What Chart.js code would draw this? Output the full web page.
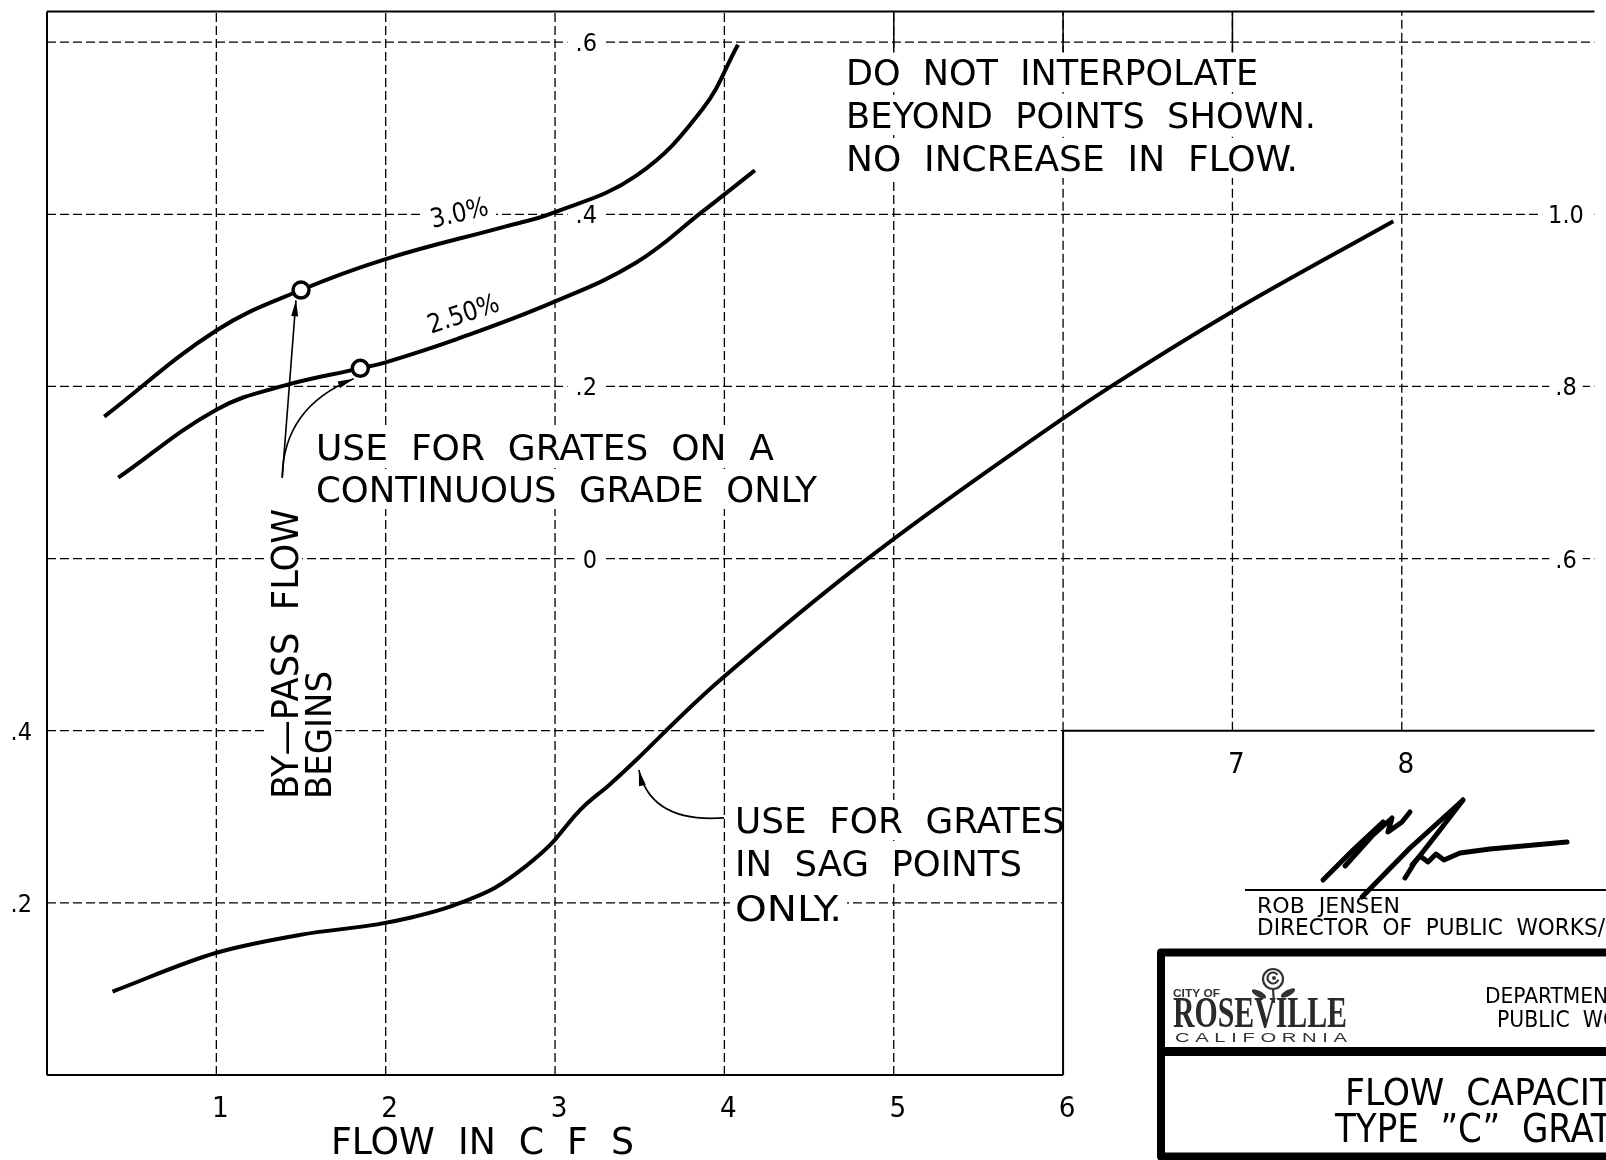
<!DOCTYPE html>
<html>
<head>
<meta charset="utf-8">
<title>Flow capacity - Type "C" grate</title>
<script src="https://cdn.jsdelivr.net/npm/chart.js@4.4.1/dist/chart.umd.min.js"></script>
<style>
  html, body { margin: 0; padding: 0; background: #fff; }
  #box { width: 1606px; height: 1160px; }
</style>
</head>
<body>
<div id="box"><canvas id="flowChart" width="1606" height="1160"></canvas></div>
<script>
// values (flow in cfs on x)
const sagFlow  = [0.387, 1.0, 1.5, 1.95, 2.15, 2.34, 2.44, 2.64, 2.83, 2.98, 3.12, 3.18, 3.32, 3.49, 3.65, 3.83, 3.97, 4.86, 6.0, 6.29, 6.99, 7.95];
const sagValue = [0.097, 0.142, 0.163, 0.175, 0.183, 0.193, 0.200, 0.217, 0.243, 0.269, 0.302, 0.314, 0.337, 0.368, 0.399, 0.433, 0.458, 0.602, 0.763, 0.801, 0.886, 0.992];

// continuous grade curves, read against the middle scale (0 .. .6)
const grade30Flow  = [0.338, 1.0, 1.5, 2.0, 2.71, 2.98, 3.48, 3.87, 4.08];
const grade30Value = [0.165, 0.265, 0.312, 0.348, 0.386, 0.401, 0.445, 0.522, 0.597];
const grade25Flow  = [0.421, 1.0, 1.4, 1.85, 2.0, 2.42, 2.98, 3.48, 3.87, 4.18];
const grade25Value = [0.094, 0.173, 0.201, 0.221, 0.228, 0.255, 0.297, 0.344, 0.403, 0.451];

// by-pass flow begins
const bypassFlow  = [1.50, 1.85];
const bypassValue = [0.312, 0.221];

// grid + tick labels
const xGrid = [1, 2, 3, 4, 5, 6, 7, 8];
const xTickLabels = ['1', '2', '3', '4', '5', '6', '7', '8'];
const yGrid = [0.2, 0.4, 0.6, 0.8, 1.0, 1.2];
const leftTicks = [0.2, 0.4];
const leftTickLabels = ['.2', '.4'];
const rightTicks = [0.6, 0.8, 1.0];
const rightTickLabels = ['.6', '.8', '1.0'];
const gradeTicks = [0, 0.2, 0.4, 0.6];
const gradeTickLabels = ['0', '.2', '.4', '.6'];
const gradeOffset = 0.6;        // middle scale zero sits on the .6 line
const panelFlow = 6, panelDepth = 0.4;   // lower-left panel corner
const topTicks = [5, 6, 7];

// leader arrows, in data units of the main axes
const leaders = [
  { from: [1.389, 0.694], tip: [1.47, 0.900] },
  { from: [1.389, 0.694], ctrl: [1.395, 0.776], tip: [1.811, 0.809] },
  { from: [3.998, 0.2987], ctrl: [3.566, 0.2926], tip: [3.495, 0.3544] }
];

const CAD = '"Liberation Sans Narrow", "DejaVu Sans Condensed", sans-serif';

function pts(xs, ys) {
  return xs.map((v, i) => ({ x: v, y: ys[i] }));
}

function seg(ctx, x1, y1, x2, y2) {
  ctx.beginPath();
  ctx.moveTo(x1, y1);
  ctx.lineTo(x2, y2);
  ctx.stroke();
}

// text scaled to a measured width, optional white wipeout behind it
function cadText(ctx, str, x, y, cap, width, opt = {}) {
  const size = cap / (opt.capRatio || 0.72);
  ctx.save();
  ctx.font = (opt.weight || '400') + ' ' + size.toFixed(1) + 'px ' + (opt.family || CAD);
  const natural = ctx.measureText(str).width;
  const ref = opt.fitTo ? ctx.measureText(opt.fitTo).width : natural;
  const sx = width ? width / ref : 1;
  const w = natural * sx;
  ctx.translate(x, y);
  if (opt.rot) ctx.rotate(opt.rot);
  let dx = 0;
  const dy = opt.middle ? cap / 2 : 0;
  if (opt.align === 'center') dx = -w / 2;
  else if (opt.align === 'right') dx = -w;
  if (opt.knock) {
    const [px, py] = opt.knock;
    ctx.fillStyle = '#fff';
    ctx.fillRect(dx - px, dy - cap - py, w + 2 * px, cap + 2 * py);
  }
  ctx.fillStyle = opt.color || '#000';
  ctx.textAlign = 'left';
  ctx.textBaseline = 'alphabetic';
  ctx.translate(dx, dy);
  ctx.scale(sx, 1);
  ctx.fillText(str, 0, 0);
  ctx.restore();
}

function arrowHead(ctx, tx, ty, fx, fy, len, half) {
  const a = Math.atan2(ty - fy, tx - fx);
  const bx = tx - len * Math.cos(a), by = ty - len * Math.sin(a);
  ctx.beginPath();
  ctx.moveTo(tx, ty);
  ctx.lineTo(bx + half * Math.sin(a), by - half * Math.cos(a));
  ctx.lineTo(bx - half * Math.sin(a), by + half * Math.cos(a));
  ctx.closePath();
  ctx.fill();
}

const cadSheet = {
  id: 'cadSheet',
  beforeDatasetsDraw(chart) {
    const { ctx, chartArea: area, scales } = chart;
    const X = v => scales.x.getPixelForValue(v);
    const Y = v => scales.y.getPixelForValue(v);
    const G = v => scales.yg.getPixelForValue(v);

    ctx.save();
    ctx.strokeStyle = '#000';
    ctx.lineWidth = 1.3;
    ctx.setLineDash([9, 4]);
    xGrid.forEach(v => seg(ctx, X(v), Y(v < panelFlow ? 0 : panelDepth), X(v), area.top));
    yGrid.forEach(v => seg(ctx, X(0), Y(v), v <= panelDepth ? X(panelFlow) : area.right, Y(v)));
    ctx.setLineDash([]);

    // notes
    const k = [7, 7];
    cadText(ctx, 'DO  NOT  INTERPOLATE', 846, 85, 26, 412, { knock: k });
    cadText(ctx, 'BEYOND  POINTS  SHOWN.', 846, 128, 26, 470, { knock: k });
    cadText(ctx, 'NO  INCREASE  IN  FLOW.', 846, 171, 26, 452, { knock: k });
    cadText(ctx, 'USE  FOR  GRATES  ON  A', 316, 460, 26, 458, { knock: k });
    cadText(ctx, 'CONTINUOUS  GRADE  ONLY', 316, 502, 26, 501, { knock: k });
    cadText(ctx, 'USE  FOR  GRATES', 735, 833, 26, 330, { knock: [5, 7] });
    cadText(ctx, 'IN  SAG  POINTS', 735, 876, 26, 287, { knock: [5, 7] });
    cadText(ctx, 'ONLY.', 735, 921, 26, 107, { knock: [5, 7] });
    cadText(ctx, 'BY\u2014PASS  FLOW', 298, 799, 27, 290, { rot: -Math.PI / 2, knock: [4, 4] });
    cadText(ctx, 'BEGINS', 331, 799, 26, 128, { rot: -Math.PI / 2, knock: [4, 4] });
    cadText(ctx, '3.0%', 459, 212, 19, 59, { rot: -13 * Math.PI / 180, align: 'center', middle: true, knock: [6, 3] });
    cadText(ctx, '2.50%', 463, 313, 19, 74, { rot: -18.4 * Math.PI / 180, align: 'center', middle: true, knock: [6, 3] });
    cadText(ctx, 'FLOW  IN  C  F  S', 331, 1154, 27, 303);

    // tick labels
    gradeTicks.forEach((v, i) => cadText(ctx, gradeTickLabels[i], 597, G(v), 18, 0, { align: 'right', middle: true, knock: [8, 3] }));
    rightTicks.forEach((v, i) => cadText(ctx, rightTickLabels[i], 1566, Y(v), 18, 0, { align: 'center', middle: true, knock: [6, 3] }));
    leftTicks.forEach((v, i) => cadText(ctx, leftTickLabels[i], 32, Y(v), 18, 0, { align: 'right', middle: true }));
    xGrid.forEach((v, i) => cadText(ctx, xTickLabels[i], X(v) + 4, Y(v > panelFlow ? panelDepth : 0) + 42, 21, 0, { align: 'center' }));

    // solid frame
    ctx.lineWidth = 2;
    seg(ctx, X(0), Y(0), X(0), area.top);
    seg(ctx, X(0), area.top, area.right, area.top);
    seg(ctx, X(0), Y(0), X(panelFlow), Y(0));
    seg(ctx, X(panelFlow), Y(0), X(panelFlow), Y(panelDepth));
    seg(ctx, X(panelFlow), Y(panelDepth), area.right, Y(panelDepth));
    ctx.lineWidth = 1.5;
    topTicks.forEach(v => seg(ctx, X(v), area.top, X(v), Y(1.188)));
    ctx.restore();
  },
  afterDatasetsDraw(chart) {
    const { ctx, scales } = chart;
    const P = p => [scales.x.getPixelForValue(p[0]), scales.y.getPixelForValue(p[1])];
    ctx.save();
    ctx.strokeStyle = '#000';
    ctx.fillStyle = '#000';
    ctx.lineWidth = 1.6;
    leaders.forEach(l => {
      const a = P(l.from), t = P(l.tip);
      const c = l.ctrl ? P(l.ctrl) : a;
      ctx.beginPath();
      ctx.moveTo(a[0], a[1]);
      if (l.ctrl) ctx.quadraticCurveTo(c[0], c[1], t[0], t[1]);
      else ctx.lineTo(t[0], t[1]);
      ctx.stroke();
      arrowHead(ctx, t[0], t[1], c[0], c[1], 16, 3.5);
    });
    ctx.restore();
  },
  afterDraw(chart) {
    const ctx = chart.ctx;
    ctx.save();
    ctx.strokeStyle = '#000';
    ctx.fillStyle = '#000';

    // signature
    ctx.lineWidth = 5;
    ctx.lineCap = 'round';
    ctx.lineJoin = 'round';
    const sig = [
      [[1323, 880], [1353, 850], [1383, 822]],
      [[1345, 866], [1372, 836], [1392, 818], [1388, 832], [1402, 822], [1410, 812]],
      [[1362, 897], [1410, 848], [1463, 800]],
      [[1463, 800], [1440, 830], [1415, 862], [1405, 878]],
      [[1412, 865], [1420, 856], [1428, 862], [1436, 854], [1444, 860], [1460, 853], [1490, 849], [1567, 842]]
    ];
    sig.forEach(s => {
      ctx.beginPath();
      s.forEach((p, i) => i ? ctx.lineTo(p[0], p[1]) : ctx.moveTo(p[0], p[1]));
      ctx.stroke();
    });
    ctx.lineCap = 'butt';
    ctx.lineWidth = 2;
    seg(ctx, 1245, 890, 1606, 890);
    cadText(ctx, 'ROB  JENSEN', 1257, 913, 15, 143);
    cadText(ctx, 'DIRECTOR  OF  PUBLIC  WORKS/', 1257, 935, 16, 348);

    // title block
    ctx.lineWidth = 8;
    ctx.strokeRect(1161, 952.5, 600, 204);
    ctx.fillRect(1157, 1047, 460, 9);

    // city logo
    cadText(ctx, 'CITY OF', 1173, 997, 7.5, 47, { family: '"Liberation Sans", sans-serif', weight: '700', color: '#333' });
    cadText(ctx, 'ROSEVILLE', 1173, 1027, 29, 174, { family: '"Liberation Serif", serif', weight: '700', capRatio: 0.66, color: '#2a2a2a' });
    cadText(ctx, 'C A L I F O R N I A', 1175, 1042, 9, 172, { family: '"Liberation Sans", sans-serif', color: '#333' });
    ctx.strokeStyle = '#333';
    ctx.fillStyle = '#333';
    ctx.lineWidth = 2.2;
    ctx.beginPath(); ctx.arc(1273, 979, 10, 0, Math.PI * 2); ctx.stroke();
    ctx.beginPath(); ctx.arc(1273, 978, 5.5, 0.3, Math.PI * 1.8); ctx.stroke();
    ctx.beginPath(); ctx.arc(1274, 978, 2, 0, Math.PI * 2); ctx.fill();
    ctx.beginPath(); ctx.ellipse(1259, 994, 8, 3, 0.5, 0, Math.PI * 2); ctx.fill();
    ctx.beginPath(); ctx.ellipse(1288, 993, 8, 3, -0.5, 0, Math.PI * 2); ctx.fill();
    seg(ctx, 1273, 989, 1274, 1003);

    cadText(ctx, 'DEPARTMENT  OF', 1485, 1003, 15, 108, { fitTo: 'DEPARTME' });
    cadText(ctx, 'PUBLIC  WORKS', 1497, 1027, 16, 106, { fitTo: 'PUBLIC  W' });
    cadText(ctx, 'FLOW  CAPACITY', 1345, 1105, 27, 245, { fitTo: 'FLOW  CAPACI' });
    cadText(ctx, 'TYPE  \u201DC\u201D  GRATE', 1335, 1142, 28, 237, { fitTo: 'TYPE  \u201DC\u201D  GR' });
    ctx.restore();
  }
};

const line = {
  borderColor: '#000',
  borderWidth: 4,
  pointRadius: 0,
  fill: false,
  order: 1
};

const data = {
  datasets: [
    Object.assign({ label: 'Grates in sag points', data: pts(sagFlow, sagValue), yAxisID: 'y',
      tension: 0.4, cubicInterpolationMode: 'monotone' }, line),
    Object.assign({ label: '3.0%', data: pts(grade30Flow, grade30Value), yAxisID: 'yg', tension: 0.4 }, line),
    Object.assign({ label: '2.50%', data: pts(grade25Flow, grade25Value), yAxisID: 'yg', tension: 0.4 }, line),
    {
      label: 'By-pass flow begins',
      data: pts(bypassFlow, bypassValue),
      yAxisID: 'yg',
      showLine: false,
      pointRadius: 8,
      pointBorderWidth: 3.5,
      pointBackgroundColor: '#fff',
      pointBorderColor: '#000',
      order: 0
    }
  ]
};

const config = {
  type: 'line',
  data: data,
  options: {
    responsive: false,
    devicePixelRatio: 1,
    animation: false,
    events: [],
    layout: { padding: { left: 47, top: 5, right: 0, bottom: 85 } },
    plugins: {
      legend: { display: false },
      tooltip: { enabled: false },
      title: { display: false }
    },
    scales: {
      x: { type: 'linear', min: 0, max: 9.138, display: false },
      y: { type: 'linear', min: 0, max: 1.2356, display: false },
      yg: { type: 'linear', min: -gradeOffset, max: 1.2356 - gradeOffset, display: false }
    }
  },
  plugins: [cadSheet]
};

const chart = new Chart(document.getElementById('flowChart'), config);
</script>
</body>
</html>
